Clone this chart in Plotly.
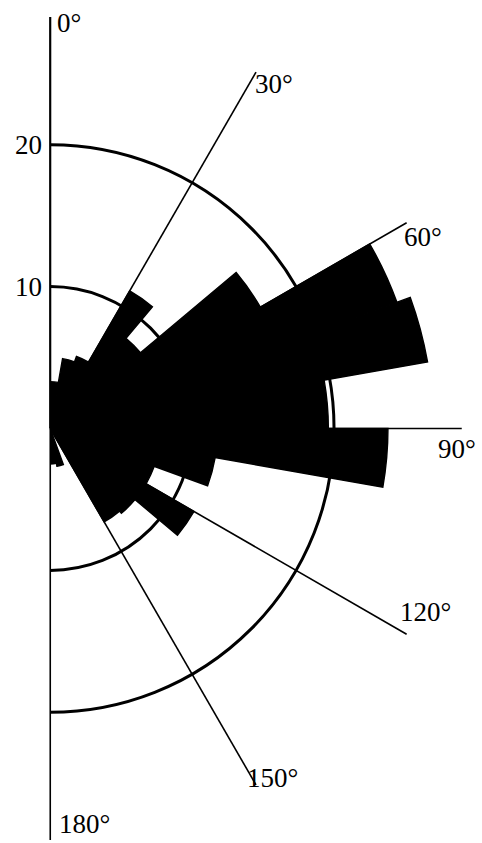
import plotly.graph_objects as go

# ---- data ----
bin_start = [0, 10, 20, 30, 40, 50, 60, 70, 80, 90, 100, 110, 120, 130, 140, 150, 160, 170]
bin_value = [3.3, 5.0, 5.4, 11.2, 8.3, 17.1, 26.0, 27.0, 19.6, 23.8, 11.8, 7.8, 11.7, 7.8, 7.6, 0, 2.7, 2.5]
bin_width = 10
angle_ticks = [0, 30, 60, 90, 120, 150, 180]
angle_labels = ["0°", "30°", "60°", "90°", "120°", "150°", "180°"]
radial_ticks = [10, 20]
radial_labels = ["10", "20"]
radial_max = 29

# ---- layout geometry (pixels) ----
W, H = 482, 843
L, T = 50, 16.5
R_PX = 412
PW, PH = R_PX, 2 * R_PX
FONT = "Liberation Serif, Times New Roman, serif"

fig = go.Figure(
    go.Barpolar(
        r=bin_value,
        theta=[b + bin_width / 2 for b in bin_start],
        width=[bin_width] * len(bin_start),
        marker=dict(color="black", line=dict(width=1.4, color="black")),
        hoverinfo="skip",
    )
)

# label placement (pixel positions of label left edge / vertical centre)
label_px = {
    "0°": (55, 23),
    "30°": (253, 84),
    "60°": (402, 237),
    "90°": (436, 449),
    "120°": (398, 612),
    "150°": (245, 778),
    "180°": (57, 824),
}

def to_paper(px, py):
    return (px - L) / PW, 1 - (py - T) / PH

annotations = []
for lab in angle_labels:
    px, py = label_px[lab]
    x, y = to_paper(px, py)
    annotations.append(dict(text=lab, x=x, y=y, xref="paper", yref="paper",
                            xanchor="left", yanchor="middle", showarrow=False,
                            font=dict(family=FONT, size=27, color="black")))

# radial tick labels: right-aligned just left of the vertical axis
cy = T + R_PX
for v, lab in zip(radial_ticks, radial_labels):
    py = cy - v / radial_max * R_PX
    x, y = to_paper(L - 6, py)
    annotations.append(dict(text=lab, x=x, y=y, xref="paper", yref="paper",
                            xanchor="right", yanchor="middle", showarrow=False,
                            font=dict(family=FONT, size=27, color="black")))

fig.update_layout(
    width=W, height=H,
    margin=dict(l=L, r=W - L - PW, t=T, b=H - T - PH, pad=0, autoexpand=False),
    paper_bgcolor="white", plot_bgcolor="white", showlegend=False,
    annotations=annotations,
    polar=dict(
        sector=[-90, 90],
        bgcolor="white",
        bargap=0,
        angularaxis=dict(direction="clockwise", rotation=90, tickmode="array",
                         tickvals=angle_ticks, showticklabels=False, ticks="",
                         showgrid=True, gridcolor="black", gridwidth=1.6,
                         showline=False),
        radialaxis=dict(range=[0, radial_max], angle=90, tickmode="array",
                        tickvals=radial_ticks, showticklabels=False,
                        showgrid=True, gridcolor="black", gridwidth=3,
                        showline=True, linecolor="black", linewidth=2,
                        ticks=""),
    ),
)

fig.write_html(
    "out.html",
    config={"displayModeBar": False, "staticPlot": True},
    post_script="document.body.style.margin='0';document.body.style.overflow='hidden';",
)
